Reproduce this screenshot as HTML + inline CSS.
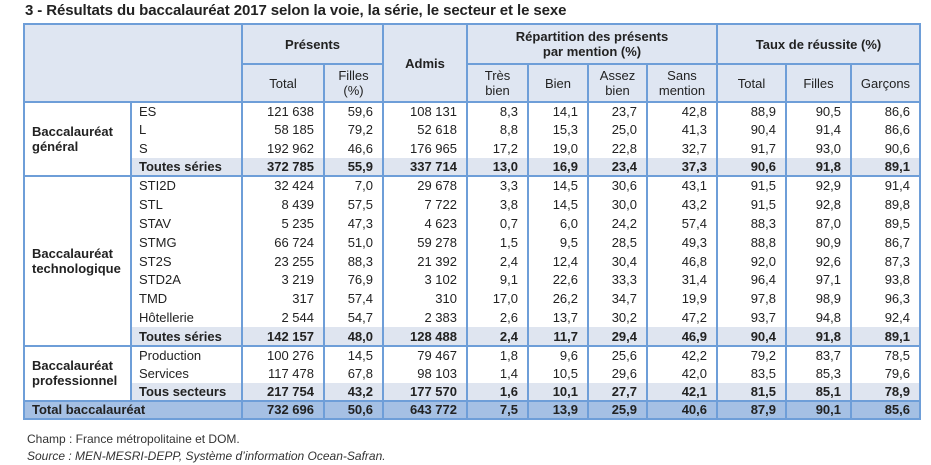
<!DOCTYPE html>
<html><head><meta charset="utf-8">
<style>
body{margin:0;width:931px;height:464px;background:#fff;font-family:"Liberation Sans",Arial,sans-serif;color:#222;position:relative;overflow:hidden}
#title{position:absolute;left:25px;top:2px;font-size:15px;font-weight:bold;color:#222;letter-spacing:-0.1px}
table{position:absolute;left:23px;top:23px;border-collapse:collapse;table-layout:fixed;font-size:13px}
td,th{padding:0;border-left:2px solid #6e9ed8;border-right:2px solid #6e9ed8;white-space:nowrap;line-height:15px}
th{background:#dfe6f2;font-weight:normal;border-top:2px solid #6e9ed8;border-bottom:2px solid #6e9ed8;text-align:center}
th.b{font-weight:bold}
td.n{text-align:right;padding-right:9px}
td.s{padding-left:7px;text-align:left}
td.v{font-weight:bold;padding-left:7px;text-align:left;vertical-align:middle}
tr.sub td{background:#dfe5f0;font-weight:bold}
tr.first td{border-top:2px solid #6e9ed8}
tr.tot td{background:#a5c0e4;font-weight:bold;border-top:2px solid #6e9ed8;border-bottom:2px solid #6e9ed8}
td.v{background:#fff!important}
#notes{position:absolute;left:27px;top:431px;font-size:12px;line-height:17px;color:#333}
</style></head><body>
<div id="title">3 - Résultats du baccalauréat 2017 selon la voie, la série, le secteur et le sexe</div>
<table>
<colgroup><col style="width:107px"><col style="width:111px"><col style="width:82px"><col style="width:59px"><col style="width:84px"><col style="width:61px"><col style="width:60px"><col style="width:59px"><col style="width:70px"><col style="width:69px"><col style="width:65px"><col style="width:69px"></colgroup>
<tr style="height:40px">
<th colspan="2" rowspan="2"></th>
<th colspan="2" class="b">Présents</th>
<th rowspan="2" class="b">Admis</th>
<th colspan="4" class="b">Répartition des présents<br>par mention (%)</th>
<th colspan="3" class="b">Taux de réussite (%)</th>
</tr>
<tr style="height:38px">
<th>Total</th>
<th>Filles<br>(%)</th>
<th>Très<br>bien</th>
<th>Bien</th>
<th>Assez<br>bien</th>
<th>Sans<br>mention</th>
<th>Total</th>
<th>Filles</th>
<th>Garçons</th>
</tr>
<tbody id="body"></tbody>
</table>
<div id="notes">Champ : France métropolitaine et DOM.<br><i>Source : MEN-MESRI-DEPP, Système d’information Ocean-Safran.</i></div>
<script>
const groups=[
 {name:"Baccalauréat<br>général",h:18.5,rows:[
  ["ES","121 638","59,6","108 131","8,3","14,1","23,7","42,8","88,9","90,5","86,6"],
  ["L","58 185","79,2","52 618","8,8","15,3","25,0","41,3","90,4","91,4","86,6"],
  ["S","192 962","46,6","176 965","17,2","19,0","22,8","32,7","91,7","93,0","90,6"],
  ["Toutes séries","372 785","55,9","337 714","13,0","16,9","23,4","37,3","90,6","91,8","89,1"]]},
 {name:"Baccalauréat<br>technologique",h:18.9,rows:[
  ["STI2D","32 424","7,0","29 678","3,3","14,5","30,6","43,1","91,5","92,9","91,4"],
  ["STL","8 439","57,5","7 722","3,8","14,5","30,0","43,2","91,5","92,8","89,8"],
  ["STAV","5 235","47,3","4 623","0,7","6,0","24,2","57,4","88,3","87,0","89,5"],
  ["STMG","66 724","51,0","59 278","1,5","9,5","28,5","49,3","88,8","90,9","86,7"],
  ["ST2S","23 255","88,3","21 392","2,4","12,4","30,4","46,8","92,0","92,6","87,3"],
  ["STD2A","3 219","76,9","3 102","9,1","22,6","33,3","31,4","96,4","97,1","93,8"],
  ["TMD","317","57,4","310","17,0","26,2","34,7","19,9","97,8","98,9","96,3"],
  ["Hôtellerie","2 544","54,7","2 383","2,6","13,7","30,2","47,2","93,7","94,8","92,4"],
  ["Toutes séries","142 157","48,0","128 488","2,4","11,7","29,4","46,9","90,4","91,8","89,1"]]},
 {name:"Baccalauréat<br>professionnel",h:18.3,rows:[
  ["Production","100 276","14,5","79 467","1,8","9,6","25,6","42,2","79,2","83,7","78,5"],
  ["Services","117 478","67,8","98 103","1,4","10,5","29,6","42,0","83,5","85,3","79,6"],
  ["Tous secteurs","217 754","43,2","177 570","1,6","10,1","27,7","42,1","81,5","85,1","78,9"]]}
];
const total=["Total baccalauréat","732 696","50,6","643 772","7,5","13,9","25,9","40,6","87,9","90,1","85,6"];
const body=document.getElementById('body');
groups.forEach((g,gi)=>{
 g.rows.forEach((r,ri)=>{
  const tr=document.createElement('tr');
  
  
  tr.style.height=g.h+'px';
  if(ri===0)tr.className='first';
  if(ri===g.rows.length-1)tr.className+=' sub';
  if(ri===0){
   const td=document.createElement('td');
   td.className='v';td.rowSpan=g.rows.length;td.innerHTML=g.name;
   
   
   tr.appendChild(td);
  }
  r.forEach((c,ci)=>{
   const td=document.createElement('td');
   td.className=ci===0?'s':'n';td.textContent=c;
   
   
   tr.appendChild(td);
  });
  body.appendChild(tr);
 });
});
const tr=document.createElement('tr');
tr.className='tot';tr.style.height='18px';


total.forEach((c,ci)=>{
 const td=document.createElement('td');
 td.className=ci===0?'s':'n';td.textContent=c;
 if(ci===0)td.colSpan=2;
 
 
 tr.appendChild(td);
});
body.appendChild(tr);
</script>
</body></html>
